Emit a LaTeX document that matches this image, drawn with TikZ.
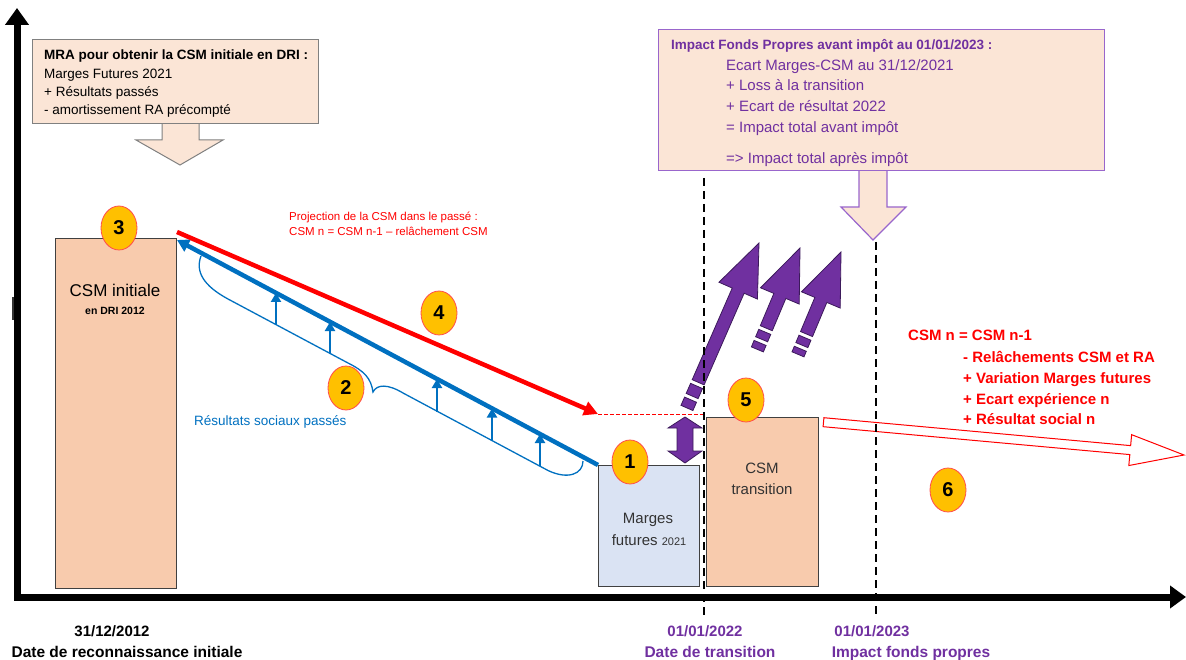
\documentclass[tikz,border=0pt]{standalone}
\usepackage{fontspec}
\setmainfont{Liberation Sans}
\usetikzlibrary{arrows.meta,shapes.geometric}
\definecolor{peachL}{HTML}{FBE5D6}
\definecolor{peachD}{HTML}{F8CBAD}
\definecolor{bluegrey}{HTML}{DAE3F3}
\definecolor{gold}{HTML}{FFC000}
\definecolor{myblue}{HTML}{0070C0}
\definecolor{mypurple}{HTML}{7030A0}
\definecolor{purpleline}{HTML}{9966CC}
\definecolor{purpledark}{HTML}{3C1A5B}
\definecolor{myred}{HTML}{FF0000}
\definecolor{boxline}{HTML}{404040}
\newcommand\fs[1]{\fontsize{#1}{#1}\selectfont}
\newcommand\purplearrow[8]{%
  \begin{scope}[shift={(#1,#2)},rotate=#3]
    \filldraw[parrow] (0,0) -- (-52,21) -- (-52,6.5) -- (-#4,6.5) -- (-#4,-6.5) -- (-52,-6.5) -- (-52,-21) -- cycle;
    \filldraw[parrow] (-#5,6.5) rectangle (-#6,-6.5);
    \filldraw[parrow] (-#7,6.5) rectangle (-#8,-6.5);
  \end{scope}}
\tikzset{
  txt/.style={inner sep=0, anchor=base west},
  ctxt/.style={inner sep=0, anchor=base},
  num/.style={ellipse, draw=myred!70, line width=0.8pt, fill=gold, minimum width=36, minimum height=44, inner sep=0, font=\bfseries\fs{20}},
  bar/.style={draw=boxline, line width=1.2pt, inner sep=0, anchor=north west},
  parrow/.style={fill=mypurple, draw=purpledark, line width=0.8pt},
  axis/.style={line width=7pt, black},
  vdash/.style={line width=2pt, dash pattern=on 8pt off 5pt, black}
}
\begin{document}
\begin{tikzpicture}[x=1pt,y=-1pt]
\useasboundingbox (0,0) rectangle (1186,660);

% axes
\draw[axis, {Triangle[length=17pt,width=23pt]}-{Triangle[length=16pt,width=22pt]}] (17,8) -- (17,597) -- (1186,597);
\draw[line width=1.5pt, black!80] (13,297) -- (13,320);

% top-left box
\draw[fill=peachL, draw=gray, line width=1pt] (162,122.5) -- (162,140) -- (136,140) -- (180,165) -- (223,140) -- (199,140) -- (199,122.5);
\node[bar, draw=gray, line width=1pt, fill=peachL, minimum width=286, minimum height=84] (mra) at (32,39) {};
\node[txt, font=\bfseries\fs{13.5}] (mra1) at (44,60) {MRA pour obtenir la CSM initiale en DRI :};
\node[txt, font=\fs{13.5}] (mra2) at (44,79) {Marges Futures 2021};
\node[txt, font=\fs{13.5}] (mra3) at (44,97) {+ Résultats passés};
\node[txt, font=\fs{13.5}] (mra4) at (44,115) {- amortissement RA précompté};

% top-right box
\draw[fill=peachL, draw=purpleline, line width=1.2pt] (859,169.5) -- (859,207) -- (841,207) -- (873,240) -- (906,207) -- (887,207) -- (887,169.5);
\node[bar, draw=purpleline, line width=1.2pt, fill=peachL, minimum width=446, minimum height=141] (ifp) at (658,29) {};
\node[txt, text=mypurple, font=\bfseries\fs{13.5}] (ifp1) at (671,50) {Impact Fonds Propres avant impôt au 01/01/2023 :};
\node[txt, text=mypurple, font=\fs{15}] (ifp2) at (726,70.5) {Ecart Marges-CSM au 31/12/2021};
\node[txt, text=mypurple, font=\fs{15}] (ifp3) at (726,91) {+ Loss à la transition};
\node[txt, text=mypurple, font=\fs{15}] (ifp4) at (726,112) {+ Ecart de résultat 2022};
\node[txt, text=mypurple, font=\fs{15}] (ifp5) at (726,132.5) {= Impact total avant impôt};
\node[txt, text=mypurple, font=\fs{15}] (ifp6) at (726,163.5) {=> Impact total après impôt};

% bars
\node[bar, fill=peachD, minimum width=121, minimum height=350] (csmi) at (55,238) {};
\node[ctxt, font=\fs{17}] (csmi1) at (115,297) {CSM initiale};
\node[ctxt, font=\bfseries\fs{10.5}] (csmi2) at (115,315) {en DRI 2012};

\node[bar, fill=bluegrey, minimum width=101, minimum height=121] (mf) at (598,465) {};
\node[ctxt, font=\fs{15}, text=black!80] (mf1) at (648,523.5) {Marges};
\node[ctxt, font=\fs{15}, text=black!80] (mf2) at (649,545.5) {futures {\fs{11}2021}};

\node[bar, fill=peachD, minimum width=112, minimum height=169] (csmt) at (706,417) {};
\node[ctxt, font=\fs{15}, text=black!80] (csmt1) at (762,473.5) {CSM};
\node[ctxt, font=\fs{15}, text=black!80] (csmt2) at (762,494.5) {transition};

% brace and small arrows
\draw[myblue, line width=1.3pt] (201,256) .. controls (195,272) and (204,286) .. (228,299) -- (348,363) .. controls (364,371) and (371,378) .. (373,392) .. controls (377,384) and (388,384) .. (403,393) -- (548,470.5) .. controls (568,480) and (583,474) .. (583,461);
\foreach \xx/\yb/\yl in {276/325/293, 330/353.5/322, 437/411.5/379, 492/440.5/408.5, 540/466/434}
  \draw[myblue, line width=2.5pt, -{Triangle[length=9pt,width=10pt]}] (\xx,\yb) -- (\xx,\yl);

% blue and red main arrows
\coordinate (b1) at (598,465);
\coordinate (b0) at (177,240);
\coordinate (r0) at (177,232);
\coordinate (r1) at (598,414);
\draw[myblue, line width=4.5pt, -{Triangle[length=12pt,width=13pt]}] (b1) -- (b0);
\draw[myred, line width=4.5pt, -{Triangle[length=14pt,width=14pt]}] (r0) -- (r1);
\draw[myred, line width=0.8pt, dash pattern=on 4pt off 2pt] (r1) -- (704,414);

\node[txt, text=myred, font=\fs{11.5}] (proj1) at (289,221) {Projection de la CSM dans le passé :};
\node[txt, text=myred, font=\fs{11.5}] (proj2) at (289,236) {CSM n = CSM n-1 – relâchement CSM};
\node[txt, text=myblue, font=\fs{13.5}] (rsp) at (194,425) {Résultats sociaux passés};

% purple arrows
\filldraw[parrow] (685,417) -- (702,428) -- (693,428) -- (693,451) -- (702,451) -- (685,463) -- (668,451) -- (677,451) -- (677,428) -- (668,428) -- cycle;
\purplearrow{759}{243}{66.4}{152}{156}{167}{171}{180}
\purplearrow{800}{248}{67.2}{87}{91}{99}{103}{110}
\purplearrow{841}{252}{67.2}{89}{93}{101}{105}{111}

% red hollow arrow
\begin{scope}[shift={(1184,455)},rotate=-5.2]
  \filldraw[fill=white, draw=myred, line width=1pt] (0,0) -- (-54,15.5) -- (-54,4.5) -- (-362,4.5) -- (-362,-4.5) -- (-54,-4.5) -- (-54,-15.5) -- cycle;
\end{scope}

% dashed verticals
\draw[vdash] (704,178) -- (704,615);
\draw[vdash] (876,242) -- (876,615);

% red text
\node[txt, text=myred, font=\bfseries\fs{15}] (eq0) at (908,341) {CSM n = CSM n-1};
\node[txt, text=myred, font=\bfseries\fs{15}] (eq1) at (963,362) {- Relâchements CSM et RA};
\node[txt, text=myred, font=\bfseries\fs{15}] (eq2) at (963,383) {+ Variation Marges futures};
\node[txt, text=myred, font=\bfseries\fs{15}] (eq3) at (963,404) {+ Ecart expérience n};
\node[txt, text=myred, font=\bfseries\fs{15}] (eq4) at (963,424.5) {+ Résultat social n};

% numbered circles
\node[num] (c3) at (119,228) {3};
\node[num] (c4) at (439,313) {4};
\node[num] (c2) at (346,388) {2};
\node[num] (c1) at (630,462) {1};
\node[num] (c5) at (746,400) {5};
\node[num] (c6) at (948,490) {6};

% bottom labels
\node[ctxt, font=\bfseries\fs{15}] (d1) at (112,636.5) {31/12/2012};
\node[ctxt, font=\bfseries\fs{15.5}] (d1b) at (127,657.5) {Date de reconnaissance initiale};
\node[ctxt, text=mypurple, font=\bfseries\fs{15}] (d2) at (705,636.5) {01/01/2022};
\node[ctxt, text=mypurple, font=\bfseries\fs{15.5}] (d2b) at (710,657.5) {Date de transition};
\node[ctxt, text=mypurple, font=\bfseries\fs{15}] (d3) at (872,636.5) {01/01/2023};
\node[ctxt, text=mypurple, font=\bfseries\fs{15.5}] (d3b) at (911,657.5) {Impact fonds propres};
\end{tikzpicture}
\end{document}
